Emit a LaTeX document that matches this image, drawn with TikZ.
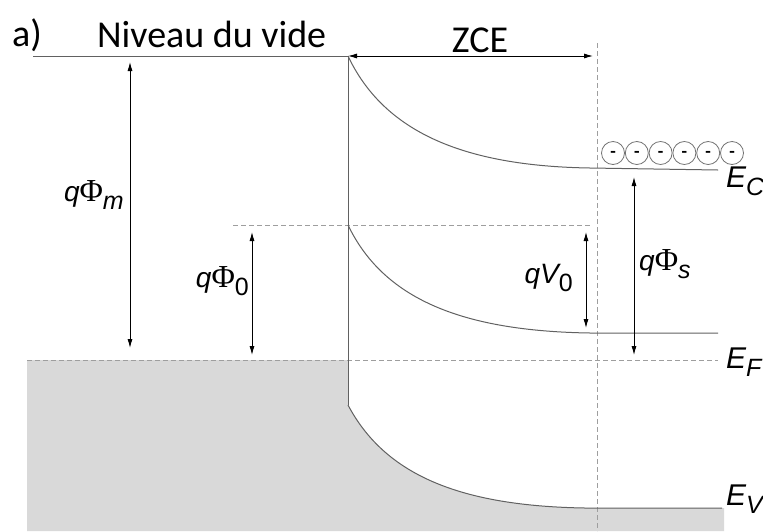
\documentclass[tikz,border=0pt]{standalone}
\usepackage{fontspec}
\setmainfont{Carlito}
\newfontfamily\labfont{Liberation Sans}
\newfontfamily\phifont{Liberation Serif}
\usetikzlibrary{arrows.meta}
\newcommand\mysub[1]{\raisebox{-8pt}{\fontsize{25}{25}\selectfont #1}}
\newcommand\myphi{{\upshape\phifont\fontsize{32}{32}\selectfont Φ}}
\begin{document}
\begin{tikzpicture}[x=1pt,y=-1pt,
  band/.style={draw=black!62, line width=1pt},
  dashline/.style={draw=black!38, line width=1pt, dash pattern=on 5pt off 3pt},
  dimarrow/.style={draw=black, line width=0.8pt, {Latex[length=9pt,width=5pt]}-{Latex[length=9pt,width=5pt]}},
  lab/.style={inner sep=0pt, font=\labfont\itshape\fontsize{28}{30}\selectfont},
  elab/.style={inner sep=0pt, font=\labfont\itshape\fontsize{30}{32}\selectfont},
  titletext/.style={inner sep=0pt, font=\fontsize{38}{42}\selectfont},
  charge/.style={circle, draw=black!55, line width=0.8pt, minimum size=23pt, inner sep=0pt, font=\bfseries\fontsize{18}{18}\selectfont}
]
\useasboundingbox (0,0) rectangle (763,531);
\clip (0,0) rectangle (763,531);

% key coordinates
\coordinate (vacL) at (33,56);
\coordinate (ifTop) at (348,56);
\coordinate (ifMid) at (348,225);
\coordinate (ifBot) at (348,405);
\coordinate (ecEnd) at (718,170);
\coordinate (efsEnd) at (718,333);
\coordinate (evEnd) at (722,508);

% gray filled regions
\fill[black!15] (27,360) -- (348,360) -- (ifBot)
  .. controls (385,475) and (460,506) .. (585,508) -- (724,508) -- (724,531) -- (27,531) -- cycle;

% dashed lines
\coordinate (efL) at (27,360);
\coordinate (efR) at (718,360);
\draw[dashline] (efL) -- (efR);
\coordinate (d0L) at (233,225);
\coordinate (d0R) at (592,225);
\draw[dashline] (d0L) -- (d0R);
\coordinate (zceTop) at (597,43);
\coordinate (zceBot) at (597,531);
\draw[dashline] (zceTop) -- (zceBot);

% bands
\draw[band] (vacL) -- (ifTop) -- (ifBot);
\draw[band] (ifTop) .. controls (383,130) and (460,166) .. (590,168) -- (ecEnd);
\draw[band] (ifMid) .. controls (383,298) and (460,331) .. (590,333) -- (efsEnd);
\draw[band] (ifBot) .. controls (385,475) and (460,506) .. (585,508) -- (evEnd);

% arrows
\coordinate (zceA) at (348,56);
\coordinate (zceB) at (593,56);
\draw[dimarrow] (zceA) -- (zceB);
\coordinate (pmT) at (130,62);
\coordinate (pmB) at (130,348);
\draw[dimarrow] (pmT) -- (pmB);
\coordinate (p0T) at (252,232);
\coordinate (p0B) at (252,355);
\draw[dimarrow] (p0T) -- (p0B);
\coordinate (v0T) at (586,232);
\coordinate (v0B) at (586,328);
\draw[dimarrow] (v0T) -- (v0B);
\coordinate (psT) at (634,177);
\coordinate (psB) at (634,355);
\draw[dimarrow] (psT) -- (psB);

% texts
\node[titletext, anchor=base west] (lbla) at (12,46) {a)};
\node[titletext, anchor=base west] (lblvide) at (97,47) {Niveau du vide};
\node[titletext, anchor=base] (lblzce) at (480,52) {ZCE};

\node[lab, anchor=base east] (lblpm) at (124,201) {q\myphi\mysub{\itshape m}};
\node[lab, anchor=base east] (lblp0) at (249,287) {q\myphi\mysub{\upshape 0}};
\node[lab, anchor=base east] (lblv0) at (573,283) {qV\mysub{\upshape 0}};
\node[lab, anchor=base west] (lblps) at (639,270) {q\myphi\mysub{\itshape s}};

\node[elab, anchor=base west] (lblec) at (726,187) {E\mysub{\itshape C}};
\node[elab, anchor=base west] (lblef) at (726,368) {E\mysub{\itshape F}};
\node[elab, anchor=base west] (lblev) at (726,505) {E\mysub{\itshape V}};

% charges
\foreach \i in {0,...,5} {
  \node[charge] (q\i) at (613+23.8*\i,153) {\raisebox{-4.5pt}[0pt][0pt]{-}};
}
\end{tikzpicture}
\end{document}
